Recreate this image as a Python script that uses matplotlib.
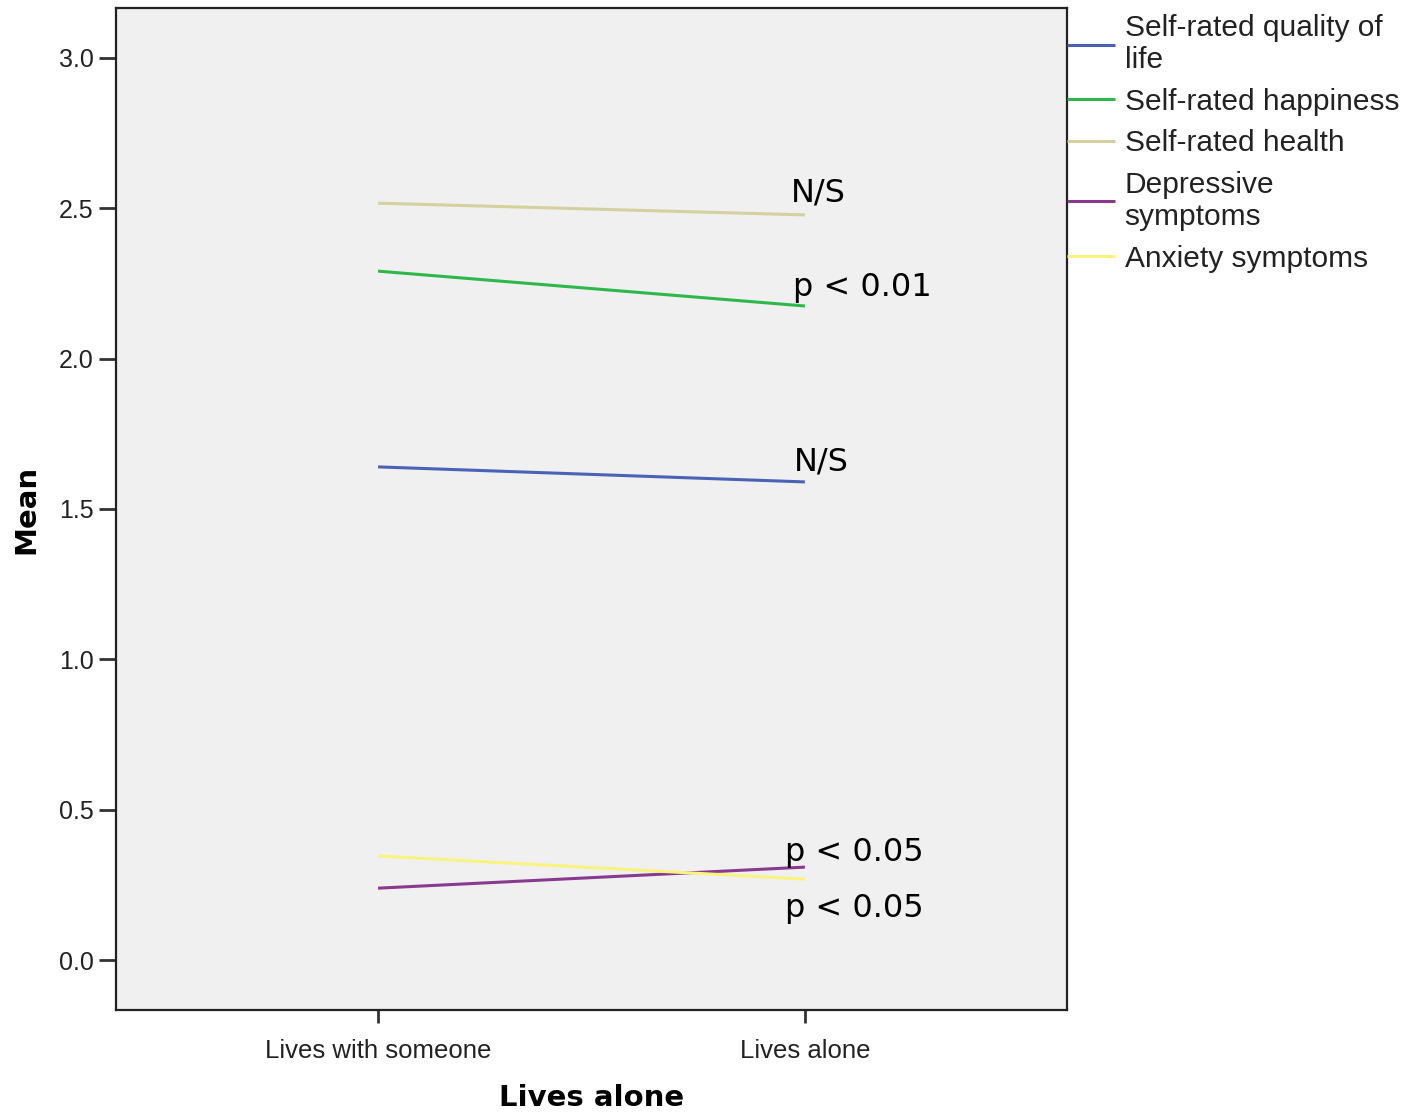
import matplotlib.pyplot as plt

# Group means
groups = ["Lives with someone", "Lives alone"]
series = ["Self-rated quality of\nlife", "Self-rated happiness", "Self-rated health",
          "Depressive\nsymptoms", "Anxiety symptoms"]
quality = [1.640, 1.590]
happiness = [2.291, 2.175]
health = [2.517, 2.478]
depressive = [0.239, 0.309]
anxiety = [0.346, 0.269]
values = [quality, happiness, health, depressive, anxiety]
colors = ["#4A62B6", "#2DB84A", "#D5D19E", "#8A3A8E", "#F8F47E"]

notes = ["N/S", "p < 0.01", "N/S", "p < 0.05", "p < 0.05"]
note_y = [2.551, 2.238, 1.656, 0.359, 0.173]
note_x = [0.967, 0.972, 0.974, 0.953, 0.953]

fig = plt.figure(figsize=(14.2, 11.14), dpi=100)
ax = fig.add_axes([0.0817, 0.0934, 0.6697, 0.8994])
ax.set_facecolor("#F0F0F0")

xs = list(range(len(groups)))
for lab, vals, col in zip(series, values, colors):
    ax.plot(xs, vals, color=col, lw=2.2, label=lab, solid_capstyle="butt")

for txt, x, y in zip(notes, note_x, note_y):
    ax.text(x, y, txt, fontsize=23, family="DejaVu Sans", va="center", ha="left")

ax.set_xlim(-0.614, 1.614)
ax.set_ylim(-0.166, 3.166)
ax.set_xticks(xs)
ax.set_xticklabels(groups, fontsize=18.5, family="Liberation Sans", color="#222222")
ax.set_yticks([0.0, 0.5, 1.0, 1.5, 2.0, 2.5, 3.0])
ax.set_yticklabels(["0.0", "0.5", "1.0", "1.5", "2.0", "2.5", "3.0"],
                   fontsize=18, family="Liberation Sans", color="#222222")
ax.tick_params(axis="y", length=12, width=2, color="#333333", pad=4)
ax.tick_params(axis="x", length=9, width=2, color="#333333", pad=12)
for s in ax.spines.values():
    s.set_linewidth(1.6)
    s.set_color("#222222")

ax.set_xlabel("Lives alone", fontsize=21, fontweight="bold", family="DejaVu Sans", labelpad=15)
ax.set_ylabel("Mean", fontsize=21, fontweight="bold", family="DejaVu Sans", labelpad=13)

leg = ax.legend(loc="upper left", bbox_to_anchor=(0.9937, 1.0), frameon=False,
                prop={"family": "Liberation Sans", "size": 21.5},
                handlelength=1.6, handletextpad=0.33, borderaxespad=0.0,
                borderpad=0.2, labelspacing=0.45)
for t in leg.get_texts():
    t.set_color("#222222")
for h in leg.get_lines():
    h.set_linewidth(2.2)

fig.savefig("out.png", dpi=100)
